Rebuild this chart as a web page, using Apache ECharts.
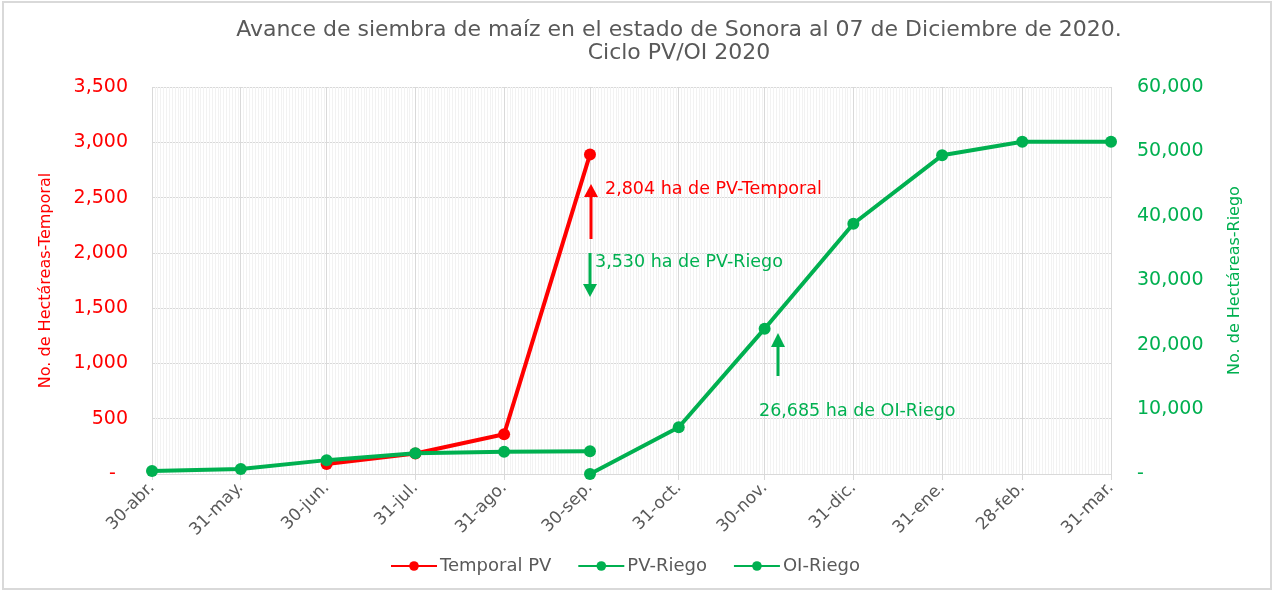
<!DOCTYPE html>
<html>
<head>
<meta charset="utf-8">
<script src="https://cdn.jsdelivr.net/npm/echarts@6/dist/echarts.min.js"></script>
<style>
  html, body { margin: 0; padding: 0; background: #fff; }
  #chart { width: 1276px; height: 592px; }
</style>
</head>
<body>
<div id="chart"></div>
<script>
// fechas de corte (fin de mes) y sus etiquetas
const categories = ['2020-04-30', '2020-05-31', '2020-06-30', '2020-07-31', '2020-08-31', '2020-09-30',
  '2020-10-31', '2020-11-30', '2020-12-31', '2021-01-31', '2021-02-28', '2021-03-31'];
const tickLabels = ['30-abr.', '31-may.', '30-jun.', '31-jul.', '31-ago.', '30-sep.',
  '31-oct.', '30-nov.', '31-dic.', '31-ene.', '28-feb.', '31-mar.'];

// hectáreas acumuladas
const temporalPV = [null, null, 90, 185, 360, 2890, null, null, null, null, null, null];
const pvRiego = [450, 780, 2150, 3200, 3450, 3530, null, null, null, null, null, null];
const oiRiego = [null, null, null, null, null, 0, 7240, 22530, 38800, 49410, 51520, 51520];

const leftTicks = { min: 0, max: 3500, interval: 500 };
const rightTicks = { min: 0, max: 60000, interval: 10000 };

const FONT = 'DejaVu Sans';
const GREY = '#595959';
const RED = '#FF0000';
const GREEN = '#00B050';

// un día por categoría, para la rejilla diaria
const days = [];
const d0 = new Date(categories[0] + 'T00:00:00Z');
const d1 = new Date(categories[categories.length - 1] + 'T00:00:00Z');
for (let d = new Date(d0); d <= d1; d.setUTCDate(d.getUTCDate() + 1)) {
  days.push(d.toISOString().slice(0, 10));
}

const toPairs = (vals) => categories.map((c, i) => [c, vals[i]]).filter((p) => p[1] != null);
const isMonthEnd = (idx, value) => categories.indexOf(value) >= 0;
const fmtNum = (v) => (v === 0 ? '-' : v.toLocaleString('en-US'));

const option = {
  animation: false,
  textStyle: { fontFamily: FONT },
  title: {
    text: 'Avance de siembra de maíz en el estado de Sonora al 07 de Diciembre de 2020.\nCiclo PV/OI 2020',
    left: 674,
    top: 14,
    textAlign: 'center',
    textStyle: { fontFamily: FONT, fontSize: 22, fontWeight: 'normal', color: GREY, lineHeight: 23 },
  },
  grid: { left: 152, right: 165, top: 87, bottom: 118 },
  legend: {
    bottom: 12,
    left: 385,
    itemWidth: 46,
    itemHeight: 12,
    itemGap: 26,
    textStyle: { fontFamily: FONT, fontSize: 18, color: GREY, padding: [0, 0, 0, -2] },
    data: ['Temporal PV', 'PV-Riego', 'OI-Riego'],
  },
  xAxis: [
    {
      // rejilla diaria
      type: 'category',
      position: 'bottom',
      data: days,
      boundaryGap: false,
      axisLine: { show: false },
      axisTick: { show: false },
      axisLabel: { show: false },
      splitLine: { show: true, interval: 0, lineStyle: { color: '#F2F2F2', width: 1 } },
    },
    {
      type: 'category',
      position: 'bottom',
      data: days,
      boundaryGap: false,
      axisLine: { show: true, lineStyle: { color: '#D9D9D9', width: 1 } },
      axisTick: { show: true, interval: isMonthEnd, length: 6, lineStyle: { color: '#D9D9D9' } },
      axisLabel: {
        interval: isMonthEnd,
        rotate: 45,
        margin: 11,
        fontFamily: FONT,
        fontSize: 17,
        color: GREY,
        formatter: (v) => tickLabels[categories.indexOf(v)],
      },
      splitLine: { show: true, interval: isMonthEnd, lineStyle: { color: '#D9D9D9', width: 1 } },
    },
  ],
  yAxis: [
    {
      type: 'value',
      min: leftTicks.min,
      max: leftTicks.max,
      interval: leftTicks.interval,
      name: 'No. de Hectáreas-Temporal',
      nameLocation: 'middle',
      nameGap: 98,
      nameTextStyle: { fontFamily: FONT, fontSize: 16, color: RED },
      axisLine: { show: false },
      axisTick: { show: false },
      axisLabel: {
        margin: 24,
        fontFamily: FONT,
        fontSize: 19,
        color: RED,
        formatter: (v) => (v === 0 ? '-  ' : fmtNum(v)),
      },
      splitLine: { show: true, lineStyle: { color: '#D9D9D9', width: 1 } },
    },
    {
      type: 'value',
      min: rightTicks.min,
      max: rightTicks.max,
      interval: rightTicks.interval,
      name: 'No. de Hectáreas-Riego',
      nameLocation: 'middle',
      nameGap: 116,
      nameRotate: 90,
      nameTextStyle: { fontFamily: FONT, fontSize: 16, color: GREEN },
      axisLine: { show: false },
      axisTick: { show: false },
      axisLabel: { margin: 26, fontFamily: FONT, fontSize: 19, color: GREEN, formatter: fmtNum },
      splitLine: { show: false },
    },
  ],
  series: [
    {
      name: 'Temporal PV',
      type: 'line',
      xAxisIndex: 1,
      yAxisIndex: 0,
      data: toPairs(temporalPV),
      symbol: 'circle',
      symbolSize: 12,
      itemStyle: { color: RED },
      lineStyle: { color: RED, width: 4 },
      z: 3,
    },
    {
      name: 'PV-Riego',
      type: 'line',
      xAxisIndex: 1,
      yAxisIndex: 1,
      data: toPairs(pvRiego),
      symbol: 'circle',
      symbolSize: 12,
      itemStyle: { color: GREEN },
      lineStyle: { color: GREEN, width: 4 },
      z: 4,
    },
    {
      name: 'OI-Riego',
      type: 'line',
      xAxisIndex: 1,
      yAxisIndex: 1,
      data: toPairs(oiRiego),
      symbol: 'circle',
      symbolSize: 12,
      itemStyle: { color: GREEN },
      lineStyle: { color: GREEN, width: 4 },
      z: 4,
    },
  ],
  graphic: [
    {
      type: 'rect',
      shape: { x: 3, y: 2, width: 1268, height: 587 },
      style: { fill: 'none', stroke: '#D9D9D9', lineWidth: 2 },
      silent: true,
    },
    // flecha PV-Temporal
    { type: 'line', shape: { x1: 591, y1: 239, x2: 591, y2: 195 }, style: { stroke: RED, lineWidth: 3 }, z: 10 },
    { type: 'polygon', shape: { points: [[584, 197], [598, 197], [591, 184]] }, style: { fill: RED }, z: 10 },
    {
      type: 'text', left: 605, top: 180, z: 10,
      style: { text: '2,804 ha de PV-Temporal', fill: RED, fontFamily: FONT, fontSize: 17.5 },
    },
    // flecha PV-Riego
    { type: 'line', shape: { x1: 590, y1: 253, x2: 590, y2: 286 }, style: { stroke: GREEN, lineWidth: 3 }, z: 10 },
    { type: 'polygon', shape: { points: [[583, 284], [597, 284], [590, 297]] }, style: { fill: GREEN }, z: 10 },
    {
      type: 'text', left: 595, top: 253, z: 10,
      style: { text: '3,530 ha de PV-Riego', fill: GREEN, fontFamily: FONT, fontSize: 17.5 },
    },
    // flecha OI-Riego
    { type: 'line', shape: { x1: 778, y1: 376, x2: 778, y2: 344 }, style: { stroke: GREEN, lineWidth: 3 }, z: 10 },
    { type: 'polygon', shape: { points: [[771, 347], [785, 347], [778, 333]] }, style: { fill: GREEN }, z: 10 },
    {
      type: 'text', left: 759, top: 402, z: 10,
      style: { text: '26,685 ha de OI-Riego', fill: GREEN, fontFamily: FONT, fontSize: 17.5 },
    },
  ],
};

const myChart = echarts.init(document.getElementById('chart'));
myChart.setOption(option);
</script>
</body>
</html>
